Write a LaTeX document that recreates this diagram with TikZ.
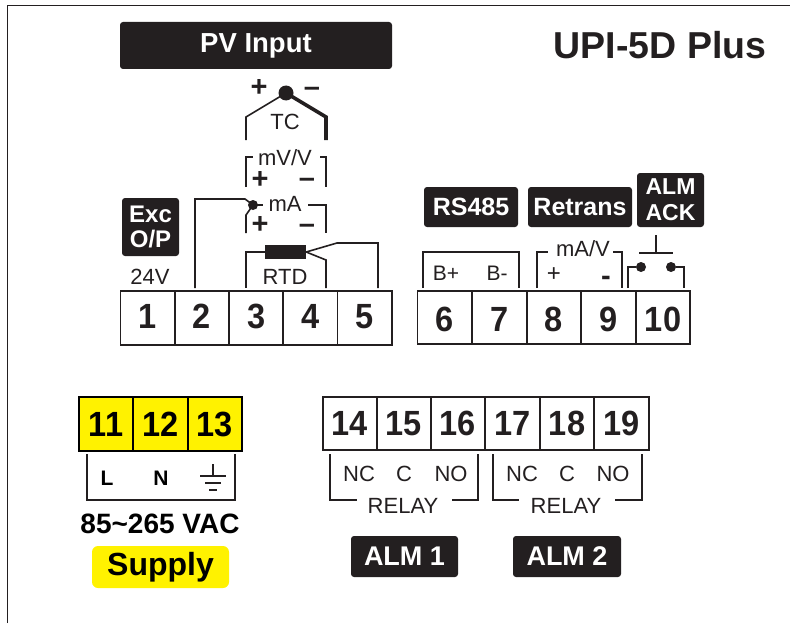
\documentclass[tikz,border=0pt]{standalone}
\usepackage{fontspec}
\usepackage{tikz}
\setmainfont{Liberation Sans}
\newfontfamily\termfont[FakeStretch=0.93]{Liberation Sans}
\definecolor{inkdark}{HTML}{231F20}
\definecolor{supplyyellow}{HTML}{FFF200}
\tikzset{
  wire/.style={draw=inkdark, line width=1.6pt},
  termbox/.style={draw=inkdark, line width=1.6pt, minimum width=54.4pt, minimum height=53.5pt, inner sep=0pt, text=inkdark, font=\termfont\bfseries\fontsize{35}{35}\selectfont},
  termup/.style={termbox, text depth=4pt},
  termdown/.style={termbox, text height=28pt},
  yellowbox/.style={termbox, fill=supplyyellow, draw=black, text=black},
  tagbox/.style={fill=inkdark, rounded corners=3pt, inner sep=0pt, text=white, align=center, font=\bfseries\fontsize{25}{25}\selectfont},
  label/.style={inner sep=0pt, text=inkdark, font=\fontsize{22}{22}\selectfont},
  signmark/.style={inner sep=0pt, text=inkdark, font=\bfseries\fontsize{29}{29}\selectfont},
  dot/.style={circle, fill=inkdark, inner sep=0pt}
}
\begin{document}
\begin{tikzpicture}[x=1pt, y=-1pt]
  \useasboundingbox (0,0) rectangle (790,626);
  \coordinate (framebottom) at (7.5,623);
  \coordinate (framecorner) at (7.5,5.5);
  \coordinate (frameright) at (790,5.5);
  \draw[wire] (framebottom) -- (framecorner) -- (frameright);

  \node[tagbox, minimum width=272pt, minimum height=47pt, font=\bfseries\fontsize{27.5}{27.5}\selectfont] (pvinput) at (256,45.5) {PV Input};
  \node[inner sep=0pt, text=inkdark, font=\bfseries\fontsize{37.5}{37.5}\selectfont] (model) at (660,45) {UPI-5D Plus};

  \node[termup] (t1) at (147.5,318) {1};
  \node[termup] (t2) at (202,318) {2};
  \node[termup] (t3) at (256.2,318) {3};
  \node[termup] (t4) at (310.3,318) {4};
  \node[termup] (t5) at (364.5,318) {5};
  \node[termdown] (t6) at (444.5,317.5) {6};
  \node[termdown] (t7) at (499.5,317.5) {7};
  \node[termdown] (t8) at (554,317.5) {8};
  \node[termdown] (t9) at (608.5,317.5) {9};
  \node[termdown] (t10) at (663,317.5) {10};

  \node[yellowbox] (t11) at (106,424) {11};
  \node[yellowbox] (t12) at (160.5,424) {12};
  \node[yellowbox] (t13) at (215,424) {13};

  \node[termbox] (t14) at (350,423.5) {14};
  \node[termbox] (t15) at (404,423.5) {15};
  \node[termbox] (t16) at (458,423.5) {16};
  \node[termbox] (t17) at (512.5,423.5) {17};
  \node[termbox] (t18) at (567,423.5) {18};
  \node[termbox] (t19) at (621.5,423.5) {19};

  \node[signmark] (tcplus) at (259,88) {+};
  \node[signmark] (tcminus) at (312,91.5) {--};
  \node[dot, minimum size=15pt] (tcdot) at (286,93) {};
  \node[label] (tc) at (285,122) {TC};
  \coordinate (tcleft) at (246,140);
  \coordinate (tcright) at (326,140);
  \draw[wire] (tcdot.center) -- (246,117) -- (tcleft);
  \draw[wire, line width=3.6pt] (tcdot.center) -- (326,117) -- (tcright);

  \node[label] (mvv) at (285,158) {mV/V};
  \node[signmark] (mvplus) at (260,180) {+};
  \node[signmark] (mvminus) at (307,183) {--};
  \coordinate (mvleft) at (246,187);
  \coordinate (mvright) at (326,187);
  \draw[wire] (mvleft) -- (246,157) -- (253,157);
  \draw[wire] (320,157) -- (326,157) -- (mvright);

  \node[dot, minimum size=10pt] (madot) at (253,205) {};
  \node[label] (ma) at (285,204) {mA};
  \node[signmark] (maplus) at (260,225) {+};
  \node[signmark] (maminus) at (307,229) {--};
  \coordinate (maleft) at (246,233);
  \coordinate (maright) at (326,233);
  \coordinate (w2) at (195,288);
  \draw[wire] (w2) -- (195,199) -- (245,199) -- (madot.center);
  \draw[wire] (madot.center) -- (246,215) -- (maleft);
  \draw[wire] (madot.center) -- (263,205);
  \draw[wire] (308,205) -- (326,205) -- (maright);

  \node[fill=inkdark, minimum width=41pt, minimum height=14pt, inner sep=0pt] (rtdbody) at (285.5,252) {};
  \node[label] (rtd) at (285,277) {RTD};
  \coordinate (w3) at (246,288);
  \coordinate (w4) at (326,288);
  \coordinate (w5) at (378,288);
  \draw[wire] (rtdbody.west) -- (246,252) -- (w3);
  \draw[wire] (rtdbody.east) -- (326,260) -- (w4);
  \draw[wire] (rtdbody.east) -- (337,243) -- (378,243) -- (w5);

  \node[tagbox, minimum width=57pt, minimum height=58pt, font=\bfseries\fontsize{24}{25}\selectfont] (excop) at (150.5,227) {Exc\\O/P};
  \node[label] (v24) at (150,277) {24V};

  \node[tagbox, minimum width=94pt, minimum height=40pt] (rs485) at (471,207) {RS485};
  \node[tagbox, minimum width=104pt, minimum height=40pt] (retrans) at (580,207) {Retrans};
  \node[tagbox, minimum width=67pt, minimum height=54pt, font=\bfseries\fontsize{23}{26}\selectfont] (almack) at (670.5,200) {ALM\\ACK};

  \node[label, font=\fontsize{21}{21}\selectfont] (bplus) at (446,273) {B+};
  \node[label, font=\fontsize{21}{21}\selectfont] (bminus) at (497,273) {B-};
  \coordinate (w6) at (423,288);
  \coordinate (w7) at (519,288);
  \draw[wire] (w6) -- (423,252) -- (519,252) -- (w7);

  \node[label] (mav) at (583,249) {mA/V};
  \node[label, font=\fontsize{24}{24}\selectfont] (retplus) at (554,275) {+};
  \node[signmark] (retminus) at (606,281) {-};
  \coordinate (w8) at (537,288);
  \coordinate (w9) at (622,288);
  \draw[wire] (w8) -- (537,252) -- (548,252);
  \draw[wire] (613,252) -- (622,252) -- (w9);

  \node[dot, minimum size=10pt] (ackleft) at (641,267) {};
  \node[dot, minimum size=10pt] (ackright) at (671,267) {};
  \coordinate (w9b) at (628,288);
  \coordinate (w10) at (684,288);
  \coordinate (pushtop) at (656,235);
  \coordinate (pushbar) at (656,253);
  \draw[wire] (w9b) -- (628,267) -- (ackleft);
  \draw[wire] (ackright) -- (684,267) -- (w10);
  \draw[wire] (pushtop) -- (pushbar);
  \draw[wire] (639,253) -- (673,253);

  \node[inner sep=0pt, text=black, font=\bfseries\fontsize{21}{21}\selectfont] (line) at (107,478) {L};
  \node[inner sep=0pt, text=black, font=\bfseries\fontsize{21}{21}\selectfont] (neutral) at (161,478) {N};
  \coordinate (w11) at (87,454);
  \coordinate (w13) at (235,454);
  \draw[wire] (w11) -- (87,500) -- (235,500) -- (w13);
  \coordinate (earthtop) at (213,464);
  \coordinate (earthbar) at (213,476);
  \draw[wire] (earthtop) -- (earthbar);
  \draw[wire] (200,476) -- (226,476);
  \draw[wire] (205,483) -- (221,483);
  \draw[wire] (209,490) -- (217,490);

  \node[inner sep=0pt, text=black, font=\bfseries\fontsize{28}{28}\selectfont] (vac) at (160,524) {85\textasciitilde265 VAC};
  \node[fill=supplyyellow, rounded corners=6pt, minimum width=137pt, minimum height=42pt, inner sep=0pt, text=black, font=\bfseries\fontsize{32}{32}\selectfont] (supply) at (160.5,567) {Supply};

  \node[label] (nc1) at (359,474) {NC};
  \node[label] (c1) at (404,474) {C};
  \node[label] (no1) at (451,474) {NO};
  \node[label] (relay1) at (403,506) {RELAY};
  \coordinate (w14) at (330,454);
  \coordinate (w16) at (478,454);
  \draw[wire] (w14) -- (330,500) -- (357,500);
  \draw[wire] (452,500) -- (478,500) -- (w16);

  \node[label] (nc2) at (522,474) {NC};
  \node[label] (c2) at (567,474) {C};
  \node[label] (no2) at (613,474) {NO};
  \node[label] (relay2) at (566,506) {RELAY};
  \coordinate (w17) at (493,454);
  \coordinate (w19) at (642,454);
  \draw[wire] (w17) -- (493,500) -- (519,500);
  \draw[wire] (615,500) -- (642,500) -- (w19);

  \node[tagbox, minimum width=107pt, minimum height=41pt, font=\bfseries\fontsize{27}{27}\selectfont] (alm1) at (404.5,556.5) {ALM 1};
  \node[tagbox, minimum width=108pt, minimum height=41pt, font=\bfseries\fontsize{27}{27}\selectfont] (alm2) at (567,556.5) {ALM 2};
\end{tikzpicture}
\end{document}
